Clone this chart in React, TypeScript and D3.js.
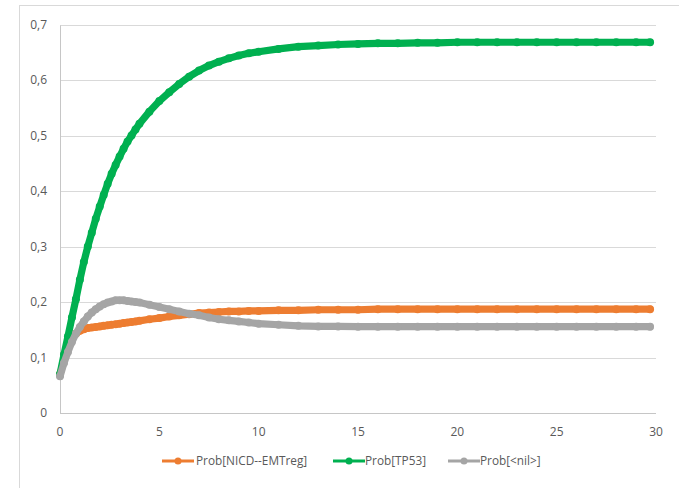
import React from "react";
import * as d3 from "d3";

const times = [0, 0.2, 0.4, 0.6, 0.8, 1, 1.2, 1.4, 1.6, 1.8, 2, 2.2, 2.4, 2.6, 2.8, 3, 3.2, 3.4, 3.6, 3.8, 4,
  4.5, 5, 5.5, 6, 6.5, 7, 7.5, 8, 8.5, 9, 9.5, 10,
  11, 12, 13, 14, 15, 16, 17, 18, 19, 20, 21, 22, 23, 24, 25, 26, 27, 28, 29, 29.7];

const nicd = [0.07, 0.095, 0.118, 0.135, 0.143, 0.148, 0.151, 0.153, 0.154, 0.155, 0.156, 0.157, 0.158, 0.159, 0.16, 0.161, 0.162, 0.163, 0.164, 0.165, 0.166,
  0.169, 0.171, 0.174, 0.176, 0.178, 0.18, 0.181, 0.182, 0.183, 0.183, 0.184, 0.184,
  0.185, 0.185, 0.186, 0.186, 0.186, 0.187, 0.187, 0.187, 0.187, 0.187, 0.187, 0.187, 0.187, 0.187, 0.187, 0.187, 0.187, 0.187, 0.187, 0.187];

const tp53 = [0.07, 0.105, 0.138, 0.172, 0.205, 0.24, 0.272, 0.3, 0.325, 0.35, 0.372, 0.393, 0.413, 0.431, 0.447, 0.462, 0.476, 0.489, 0.5, 0.511, 0.521,
  0.543, 0.562, 0.578, 0.593, 0.606, 0.617, 0.626, 0.633, 0.639, 0.644, 0.648, 0.651,
  0.656, 0.66, 0.662, 0.664, 0.665, 0.666, 0.666, 0.667, 0.667, 0.668, 0.668, 0.668, 0.668, 0.668, 0.668, 0.668, 0.668, 0.668, 0.668, 0.668];

const nil = [0.066, 0.09, 0.11, 0.128, 0.143, 0.155, 0.165, 0.174, 0.181, 0.187, 0.192, 0.196, 0.199, 0.201, 0.203, 0.203, 0.203, 0.202, 0.201, 0.2, 0.199,
  0.195, 0.191, 0.187, 0.183, 0.179, 0.176, 0.172, 0.169, 0.167, 0.165, 0.163, 0.161,
  0.159, 0.157, 0.156, 0.156, 0.1555, 0.1555, 0.1555, 0.1555, 0.1555, 0.1555, 0.1555, 0.1555, 0.1555, 0.1555, 0.1555, 0.1555, 0.1555, 0.1555, 0.1555, 0.1555];

const seriesNames = ["Prob[NICD--EMTreg]", "Prob[TP53]", "Prob[<nil>]"];
const seriesColors = ["#ED7D31", "#00B050", "#A5A5A5"];
const seriesValues = [nicd, tp53, nil];

const yTicks = [0, 0.1, 0.2, 0.3, 0.4, 0.5, 0.6, 0.7];
const xTicks = [0, 5, 10, 15, 20, 25, 30];

const W = 679;
const H = 488;
const left = 60, right = 656, top = 24.5, bottom = 413;
const font = "'Open Sans', 'Liberation Sans', sans-serif";

export default function App() {
  const x = d3.scaleLinear().domain([0, 30]).range([left, right]);
  const y = d3.scaleLinear().domain([0, 0.7]).range([bottom, top]);
  const fmt = (v: number) => (v === 0 ? "0" : v.toFixed(1).replace(".", ","));

  const legendItems = [
    { lx: 162, tx: 196 },
    { lx: 333, tx: 365 },
    { lx: 448, tx: 480 },
  ];

  return (
    <svg width={W} height={H} style={{ position: "absolute", left: 0, top: 0, background: "#fff" }}>
      <rect x={19.5} y={5.5} width={720} height={520} fill="#fff" stroke="#d9d9d9" />
      {yTicks.map((t) => (
        <line key={"g" + t} x1={left} x2={right} y1={Math.round(y(t)) + 0.5} y2={Math.round(y(t)) + 0.5}
          stroke={t === 0 ? "#c6c6c6" : "#d9d9d9"} strokeWidth={1} />
      ))}
      <line x1={left + 0.5} x2={left + 0.5} y1={Math.round(y(0.7)) + 0.5} y2={Math.round(y(0)) + 0.5} stroke="#c6c6c6" />
      {yTicks.map((t) => (
        <text key={"yl" + t} x={47} y={y(t)} dy="0.35em" textAnchor="end" fontFamily={font} fontSize={12} fill="#595959">
          {fmt(t)}
        </text>
      ))}
      {xTicks.map((t) => (
        <text key={"xl" + t} x={x(t)} y={436} textAnchor="middle" fontFamily={font} fontSize={12} fill="#595959">
          {t}
        </text>
      ))}
      {seriesValues.map((vals, si) => {
        const line = d3.line<number>().x((_, i) => x(times[i])).y((d) => y(d));
        return (
          <g key={"s" + si}>
            <path d={line(vals) || ""} fill="none" stroke={seriesColors[si]} strokeWidth={7.2}
              strokeLinejoin="round" strokeLinecap="round" />
            {vals.map((v, i) => (
              <circle key={i} cx={x(times[i])} cy={y(v)} r={4} fill={seriesColors[si]} />
            ))}
          </g>
        );
      })}
      {legendItems.map((it, i) => (
        <g key={"lg" + i}>
          <line x1={it.lx} x2={it.lx + 32} y1={461} y2={461} stroke={seriesColors[i]} strokeWidth={3} />
          <circle cx={it.lx + 16} cy={461} r={3.5} fill={seriesColors[i]} />
          <text x={it.tx} y={461} dy="0.35em" fontFamily={font} fontSize={11.8} fill="#595959">
            {seriesNames[i]}
          </text>
        </g>
      ))}
    </svg>
  );
}
